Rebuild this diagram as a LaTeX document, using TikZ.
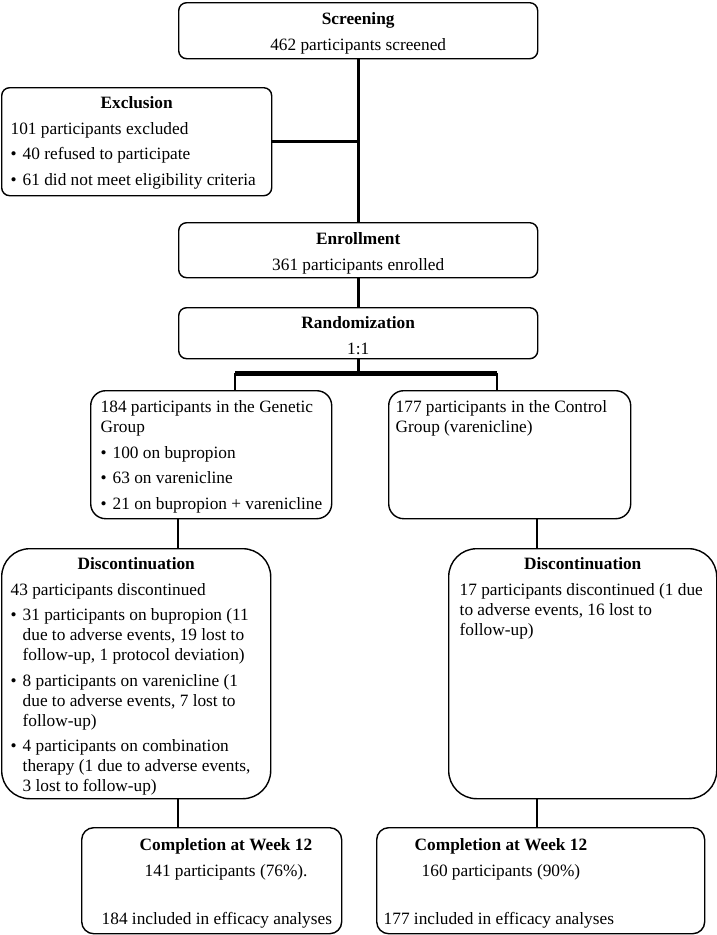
\documentclass[tikz,border=0pt]{standalone}
\usepackage{fontspec}
\setmainfont{Liberation Serif}
\usepackage{tikz}

% text block of a box: width, height, left pad, top pad, body
\newcommand{\boxtext}[5]{\parbox[c][#2][t]{#1}{\parskip=5.5pt\raggedright\leftskip=#3\relax\vspace*{#4}#5}}
\newcommand{\boxhead}[1]{{\centering\textbf{#1}\par}}
\newcommand{\bul}{\makebox[12pt][l]{\textbullet}}
\newcommand{\cont}{\newline\hspace*{12pt}}

\begin{document}
\begin{tikzpicture}[x=1pt,y=-1pt,font=\fontsize{17.3}{20}\selectfont]
    \tikzstyle{box}=[draw,line width=1.4pt,anchor=north west,inner sep=0pt,rounded corners=8pt]
    \tikzstyle{link}=[line width=2.8pt]
    \useasboundingbox (0,0) rectangle (717,935);

    \node[box] (screen) at (178,2) {\boxtext{359pt}{56pt}{0pt}{4.5pt}{\boxhead{Screening}{\centering 462 participants screened\par}}};
    \node[box] (excl) at (1,87) {\boxtext{270pt}{108pt}{9pt}{3.5pt}{\boxhead{Exclusion}101 participants excluded\par
        \bul 40 refused to participate\par
        \bul 61 did not meet eligibility criteria}};
    \node[box] (enrol) at (178,222) {\boxtext{359pt}{55pt}{0pt}{4.5pt}{\boxhead{Enrollment}{\centering 361 participants enrolled\par}}};
    \node[box] (random) at (178,307) {\boxtext{359pt}{51pt}{0pt}{3.5pt}{\boxhead{Randomization}{\centering 1:1\par}}};

    \node[box,rounded corners=15pt] (genetic) at (90,390) {\boxtext{241pt}{128pt}{10pt}{4.5pt}{184 participants in the Genetic\newline Group\par
        \bul 100 on bupropion\par
        \bul 63 on varenicline\par
        \bul 21 on bupropion + varenicline}};
    \node[box,rounded corners=15pt] (control) at (388,390) {\boxtext{242pt}{128pt}{7pt}{4.5pt}{177 participants in the Control\newline Group (varenicline)}};

    \node[box,rounded corners=28pt] (discL) at (1,548) {\boxtext{269pt}{250pt}{9pt}{3.5pt}{\boxhead{Discontinuation}43 participants discontinued\par
        \bul 31 participants on bupropion (11\cont due to adverse events, 19 lost to\cont follow-up, 1 protocol deviation)\par
        \bul 8 participants on varenicline (1\cont due to adverse events, 7 lost to\cont follow-up)\par
        \bul 4 participants on combination\cont therapy (1 due to adverse events,\cont 3 lost to follow-up)}};
    \node[box,rounded corners=28pt] (discR) at (448,548) {\boxtext{268pt}{250pt}{11pt}{3.5pt}{\boxhead{Discontinuation}17 participants discontinued (1 due\newline to adverse events, 16 lost to\newline follow-up)}};

    \node[box,rounded corners=12pt] (compL) at (81,827) {\boxtext{260pt}{106pt}{20pt}{5.5pt}{\hspace*{38pt}\textbf{Completion at Week 12}\par
        \hspace*{43pt}141 participants (76\%).\par\vspace{23pt}
        184 included in efficacy analyses}};
    \node[box,rounded corners=12pt] (compR) at (376,827) {\boxtext{328pt}{106pt}{7pt}{5.5pt}{\hspace*{31pt}\textbf{Completion at Week 12}\par
        \hspace*{38pt}160 participants (90\%)\par\vspace{23pt}
        177 included in efficacy analyses}};

    \coordinate (colL) at (178,0);
    \coordinate (colR) at (537,0);
    \coordinate (brL) at (235,373);
    \coordinate (brR) at (497,373);

    \path[draw,link]
    (screen.south) edge (enrol.north)
    (excl.east) edge (excl.east -| screen.south)
    (enrol.south) edge (random.north)
    (random.south) edge (random.south |- brL)
    (brL) edge (brL |- genetic.north)
    (brR) edge (brR |- control.north)
    (genetic.south -| colL) edge (discL.north -| colL)
    (discL.south -| colL) edge (compL.north -| colL)
    (control.south -| colR) edge (discR.north -| colR)
    (discR.south -| colR) edge (compR.north -| colR)
    ;
    \draw[line width=5pt] (brL) -- (brR);
\end{tikzpicture}
\end{document}
